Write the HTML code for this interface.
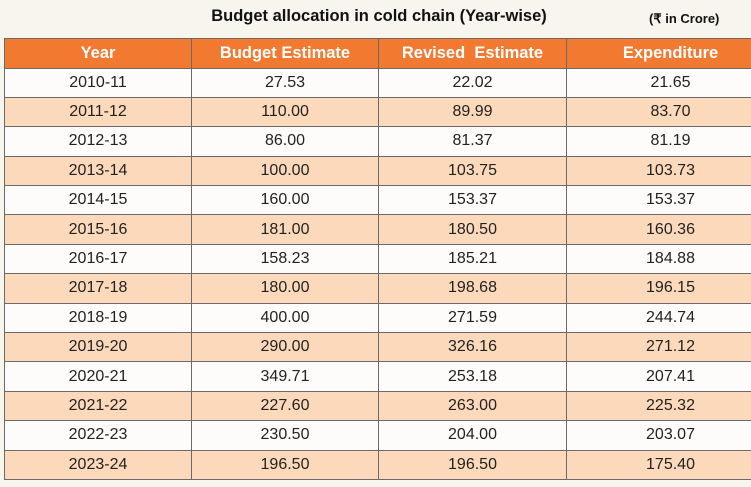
<!DOCTYPE html>
<html><head><meta charset="utf-8"><style>
body{margin:0;width:751px;height:487px;overflow:hidden;background:#f8f5ef;font-family:"Liberation Sans",sans-serif;position:relative}
#title{position:absolute;left:0;width:758px;top:7px;text-align:center;font-weight:bold;font-size:16.5px;color:#111}
#unit{position:absolute;left:649px;top:11px;font-weight:bold;font-size:13px;color:#111;white-space:nowrap}
table{position:absolute;left:4px;top:38px;border-collapse:collapse;table-layout:fixed;width:770px}
td,th{border:1.5px solid #6a6a6a;text-align:center;padding:0;color:#222}
th{background:#f27a30;color:#fff;font-weight:bold;font-size:16.5px;height:28.5px}
td{height:28.4px;font-size:16px}
tr.s td{background:#fdd9bb}
tr.w td{background:#fdfcfa}
</style></head><body>
<div id="title">Budget allocation in cold chain (Year-wise)</div>
<div id="unit">(₹ in Crore)</div>
<table>
<colgroup><col style="width:187px"><col style="width:187px"><col style="width:188px"><col style="width:208px"></colgroup>
<thead><tr><th>Year</th><th>Budget Estimate</th><th>Revised&nbsp; Estimate</th><th>Expenditure</th></tr></thead>
<tbody id="tb"></tbody></table>
<script>
const years=["2010-11","2011-12","2012-13","2013-14","2014-15","2015-16","2016-17","2017-18","2018-19","2019-20","2020-21","2021-22","2022-23","2023-24"];
const budget=["27.53","110.00","86.00","100.00","160.00","181.00","158.23","180.00","400.00","290.00","349.71","227.60","230.50","196.50"];
const revised=["22.02","89.99","81.37","103.75","153.37","180.50","185.21","198.68","271.59","326.16","253.18","263.00","204.00","196.50"];
const expend=["21.65","83.70","81.19","103.73","153.37","160.36","184.88","196.15","244.74","271.12","207.41","225.32","203.07","175.40"];
const tb=document.getElementById('tb');
years.forEach((y,i)=>{
  const tr=document.createElement('tr');
  tr.className=i%2?'s':'w';
  
  
  [y,budget[i],revised[i],expend[i]].forEach((v,j)=>{
    const td=document.createElement('td');
    td.textContent=v;
    
    
    tr.appendChild(td);
  });
  tb.appendChild(tr);
});
</script>
</body></html>
